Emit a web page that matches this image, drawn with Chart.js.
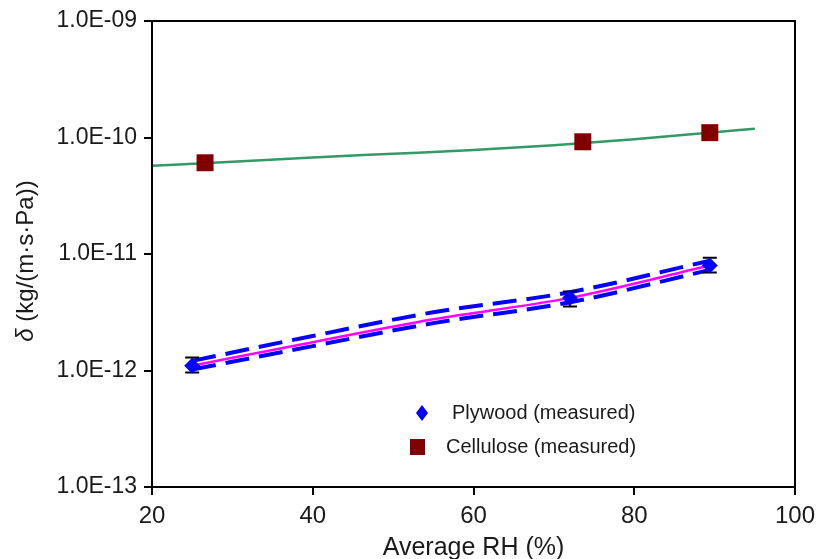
<!DOCTYPE html>
<html>
<head>
<meta charset="utf-8">
<title>Vapour permeability vs average RH</title>
<script src="https://cdn.jsdelivr.net/npm/chart.js@4.4.0/dist/chart.umd.min.js"></script>
<style>
  body { margin: 0; background: #fff; }
  canvas { display: block; }
</style>
</head>
<body>
<canvas id="chart" width="818" height="559"></canvas>
<script>
// Plywood (measured) with error bars
const plywoodRH = [25, 72, 89.4];
const plywoodVal = [1.10e-12, 4.2e-12, 7.96e-12];
const plywoodHigh = [1.29e-12, 4.76e-12, 9.3e-12];
const plywoodLow = [0.96e-12, 3.54e-12, 6.93e-12];

// Cellulose (measured)
const celluloseRH = [26.6, 73.6, 89.4];
const celluloseVal = [6.07e-11, 9.19e-11, 1.10e-10];

// Cellulose fit curve
const celluloseFitRH = [20, 30, 40, 50, 60, 70, 80, 90, 95];
const celluloseFitVal = [5.72e-11, 6.2e-11, 6.75e-11, 7.25e-11, 7.8e-11, 8.6e-11, 9.66e-11, 1.11e-10, 1.19e-10];

// Plywood fit curve and its bounds
const plywoodFitRH = [25, 40, 55, 72, 89.4];
const plywoodFitVal = [1.10e-12, 1.75e-12, 2.75e-12, 4.2e-12, 7.96e-12];
const plywoodUpperVal = [1.21e-12, 1.98e-12, 3.16e-12, 4.7e-12, 8.76e-12];
const plywoodLowerVal = [1.02e-12, 1.62e-12, 2.55e-12, 3.85e-12, 7.3e-12];

// Axes
const xTicks = [20, 40, 60, 80, 100];
const yTicks = [1e-13, 1e-12, 1e-11, 1e-10, 1e-9];
const yTickLabels = ['1.0E-13', '1.0E-12', '1.0E-11', '1.0E-10', '1.0E-09'];
const legendLabels = ['Plywood (measured)', 'Cellulose (measured)'];
const yTitleSymbol = 'δ';
const yTitleUnit = ' (kg/(m·s·Pa))';

const FONT = '"Liberation Sans", Arial, Helvetica, sans-serif';

const toPoints = (xs, ys) => xs.map((x, i) => ({ x: x, y: ys[i] }));

// Error bars for the plywood markers, drawn just before the markers
const errorBars = {
    id: 'errorBars',
    beforeDatasetDraw(chart, args) {
        if (args.meta.label !== legendLabels[0]) return;
        const ctx = chart.ctx;
        const xs = chart.scales.x;
        const ys = chart.scales.y;
        ctx.save();
        ctx.strokeStyle = '#000';
        ctx.lineWidth = 2;
        plywoodRH.forEach((rh, i) => {
            const px = xs.getPixelForValue(rh);
            const top = ys.getPixelForValue(plywoodHigh[i]);
            const bot = ys.getPixelForValue(plywoodLow[i]);
            ctx.beginPath();
            ctx.moveTo(px, top); ctx.lineTo(px, bot);
            ctx.moveTo(px - 7, top); ctx.lineTo(px + 7, top);
            ctx.moveTo(px - 7, bot); ctx.lineTo(px + 7, bot);
            ctx.stroke();
        });
        ctx.restore();
    }
};

// Frame round the plot area, y title with italic delta, legend inside the plot
const frameAndLegend = {
    id: 'frameAndLegend',
    afterDraw(chart) {
        const ctx = chart.ctx;
        const a = chart.chartArea;
        ctx.save();
        ctx.strokeStyle = '#000';
        ctx.lineWidth = 2;
        ctx.strokeRect(a.left, a.top, a.right - a.left, a.bottom - a.top);

        // y title
        ctx.save();
        ctx.translate(26, 261);
        ctx.rotate(-Math.PI / 2);
        ctx.fillStyle = '#1a1a1a';
        ctx.textBaseline = 'middle';
        ctx.font = 'italic 24px ' + FONT;
        const w1 = ctx.measureText(yTitleSymbol).width;
        ctx.font = '24px ' + FONT;
        const w2 = ctx.measureText(yTitleUnit).width;
        const start = -(w1 + w2) / 2;
        ctx.font = 'italic 24px ' + FONT;
        ctx.fillText(yTitleSymbol, start, 0);
        ctx.font = '24px ' + FONT;
        ctx.fillText(yTitleUnit, start + w1, 0);
        ctx.restore();

        // legend
        ctx.fillStyle = '#0000ff';
        ctx.beginPath();
        ctx.moveTo(422, 405); ctx.lineTo(428, 413); ctx.lineTo(422, 421); ctx.lineTo(416, 413);
        ctx.closePath();
        ctx.fill();
        ctx.fillStyle = '#800000';
        ctx.fillRect(410, 439, 15, 16);

        ctx.fillStyle = '#1a1a1a';
        ctx.font = '20px ' + FONT;
        ctx.textBaseline = 'middle';
        ctx.fillText(legendLabels[0], 452, 413);
        ctx.fillText(legendLabels[1], 446, 447);
        ctx.restore();
    }
};

new Chart(document.getElementById('chart'), {
    type: 'scatter',
    data: {
        datasets: [
            {
                label: legendLabels[0],
                data: toPoints(plywoodRH, plywoodVal),
                pointStyle: 'rectRot',
                pointRadius: 8,
                backgroundColor: '#0000ff',
                borderColor: '#0000ff',
                borderWidth: 0,
                order: 0
            },
            {
                label: legendLabels[1],
                data: toPoints(celluloseRH, celluloseVal),
                pointStyle: 'rect',
                pointRadius: 12,
                backgroundColor: '#800000',
                borderColor: '#800000',
                borderWidth: 0,
                order: 0
            },
            {
                label: 'Cellulose fit',
                data: toPoints(celluloseFitRH, celluloseFitVal),
                showLine: true,
                pointRadius: 0,
                borderColor: '#339966',
                borderWidth: 2.5,
                cubicInterpolationMode: 'monotone',
                order: 1
            },
            {
                label: 'Plywood upper',
                data: toPoints(plywoodFitRH, plywoodUpperVal),
                showLine: true,
                pointRadius: 0,
                borderColor: '#0000ff',
                borderWidth: 4,
                borderDash: [24, 10],
                cubicInterpolationMode: 'monotone',
                order: 2
            },
            {
                label: 'Plywood lower',
                data: toPoints(plywoodFitRH, plywoodLowerVal),
                showLine: true,
                pointRadius: 0,
                borderColor: '#0000ff',
                borderWidth: 4,
                borderDash: [24, 10],
                cubicInterpolationMode: 'monotone',
                order: 2
            },
            {
                label: 'Plywood fit',
                data: toPoints(plywoodFitRH, plywoodFitVal),
                showLine: true,
                pointRadius: 0,
                borderColor: '#ff00ff',
                borderWidth: 2.5,
                cubicInterpolationMode: 'monotone',
                order: 1
            }
        ]
    },
    options: {
        responsive: false,
        animation: false,
        layout: { padding: { top: 21, right: 23, left: 0, bottom: 0 } },
        plugins: {
            legend: { display: false },
            tooltip: { enabled: false }
        },
        scales: {
            x: {
                type: 'linear',
                min: 20,
                max: 100,
                afterBuildTicks: (scale) => { scale.ticks = xTicks.map(v => ({ value: v })); },
                afterFit: (scale) => {
                    scale.height = 72;
                    scale.paddingLeft = 0;
                    scale.paddingRight = 0;
                },
                border: { display: false },
                grid: { drawOnChartArea: false, drawTicks: true, tickLength: 8, color: '#000', lineWidth: 2 },
                ticks: { color: '#1a1a1a', font: { family: FONT, size: 24 }, padding: 7, maxRotation: 0 },
                title: {
                    display: true,
                    text: 'Average RH (%)',
                    color: '#1a1a1a',
                    font: { family: FONT, size: 25 },
                    padding: { top: 0, bottom: -4 }
                }
            },
            y: {
                type: 'logarithmic',
                min: 1e-13,
                max: 1e-9,
                afterBuildTicks: (scale) => { scale.ticks = yTicks.map(v => ({ value: v })); },
                afterFit: (scale) => {
                    scale.width = 152;
                    scale.paddingTop = 0;
                    scale.paddingBottom = 0;
                },
                border: { display: false },
                grid: { drawOnChartArea: false, drawTicks: true, tickLength: 8, color: '#000', lineWidth: 2 },
                ticks: {
                    color: '#1a1a1a',
                    font: { family: FONT, size: 23 },
                    padding: 7,
                    autoSkip: false,
                    callback: (value, index) => yTickLabels[index]
                },
                title: { display: false }
            }
        }
    },
    plugins: [errorBars, frameAndLegend]
});
</script>
</body>
</html>
